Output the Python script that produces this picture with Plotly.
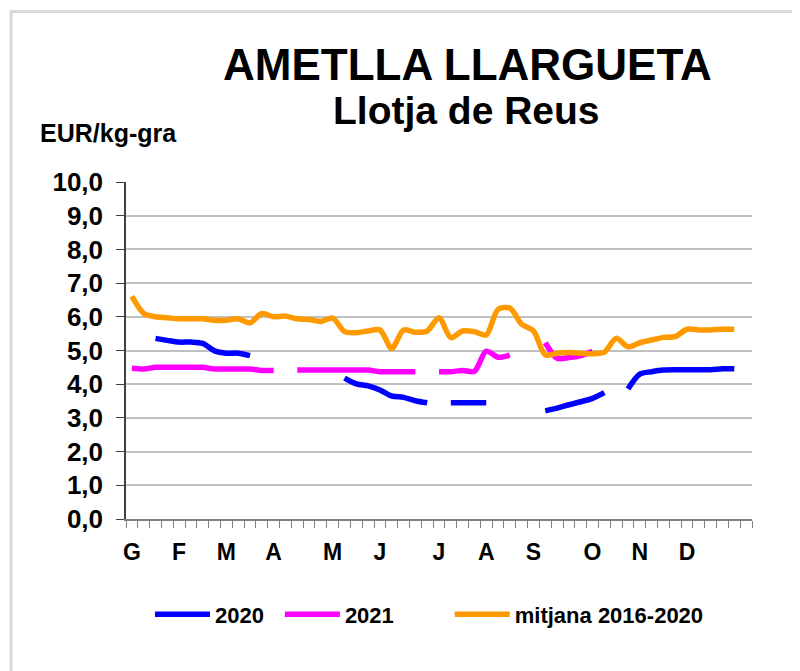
import plotly.graph_objects as go

weeks = list(range(1, 53))
month_labels = ["G", "F", "M", "A", "M", "J", "J", "A", "S", "O", "N", "D"]
month_weeks = [1, 5, 9, 13, 18, 22, 27, 31, 35, 40, 44, 48]

N = None
y2020 = [N, N, 5.36, 5.30, 5.25, 5.25, 5.21, 4.99, 4.92, 4.92, 4.85,
         N, N, N, N, N, N, N,
         4.18, 4.01, 3.95, 3.83, 3.65, 3.61, 3.51, 3.45,
         N, 3.45, 3.45, 3.45, 3.45,
         N, N, N, N,
         3.21, 3.29, 3.39, 3.48, 3.58, 3.75,
         N, 3.86, 4.30, 4.37, 4.42, 4.43, 4.43, 4.43, 4.43, 4.46, 4.46]
y2021 = [4.47, 4.45, 4.50, 4.50, 4.50, 4.50, 4.50, 4.45, 4.45, 4.45, 4.45, 4.41, 4.41,
         N, 4.42, 4.42, 4.42, 4.42, 4.42, 4.42, 4.42, 4.37, 4.37, 4.37, 4.37,
         N, 4.37, 4.37, 4.41, 4.38, 4.98, 4.80, 4.86,
         N, N, 5.23, 4.77, 4.79, 4.85, 4.98,
         N, N, N, N, N, N, N, N, N, N, N, N]
ymitjana = [6.61, 6.10, 6.00, 5.97, 5.94, 5.94, 5.94, 5.89, 5.90, 5.94, 5.82, 6.10, 6.00,
            6.02, 5.94, 5.92, 5.86, 5.96, 5.56, 5.53, 5.58, 5.61, 5.06, 5.61, 5.54, 5.58,
            5.97, 5.38, 5.58, 5.56, 5.46, 6.22, 6.26, 5.78, 5.58, 4.87, 4.92, 4.94, 4.92,
            4.90, 4.95, 5.36, 5.11, 5.23, 5.31, 5.39, 5.41, 5.63, 5.61, 5.61, 5.63, 5.63]

series = [("2020", y2020, "#0000FF", "legend"),
          ("2021", y2021, "#FF00FF", "legend2"),
          ("mitjana 2016-2020", ymitjana, "#FF9900", "legend3")]

FONT = "Liberation Sans, Arial, sans-serif"

fig = go.Figure()
for name, vals, col, lg in series:
    fig.add_trace(go.Scatter(
        x=weeks, y=vals, name=name, mode="lines", legend=lg,
        line=dict(color=col, width=5.5, shape="spline", smoothing=0.8),
        connectgaps=False,
    ))

# the page adds an 8 px body margin; geometry below is in screen pixels
OFF = 8
W, H = 800, 671
SL, SR, ST, SB = 126, 752.5, 181.7, 519.3   # plot area on screen
L, T = SL - OFF, ST - OFF
R, B = W - (SR - OFF), H - (SB - OFF)
pw, ph = SR - SL, SB - ST

def px(x):
    return (x - SL) / pw

def py(y):
    return (SB - y) / ph

legend_font = dict(family=FONT, size=22, weight="bold", color="black")

def leg(xs):
    return dict(orientation="h", x=px(xs - 5), y=py(615), xanchor="left",
                yanchor="middle", font=legend_font, itemwidth=55,
                bgcolor="rgba(0,0,0,0)")

fig.update_layout(
    width=W, height=H,
    margin=dict(l=L, r=R, t=T, b=B, autoexpand=False),
    paper_bgcolor="white", plot_bgcolor="white",
    separators=",.",
    font=dict(family=FONT, color="black"),
    showlegend=True,
    legend=leg(155), legend2=leg(285), legend3=leg(455),
    xaxis=dict(
        range=[0.5, 53.5], tickmode="array", tickvals=month_weeks, ticktext=month_labels,
        ticks="", showgrid=False, zeroline=False,
        showline=True, linecolor="#808080", linewidth=1.5,
        tickfont=dict(family=FONT, size=23, weight="bold", color="black"),
        ticklabelstandoff=12,
        minor=dict(tickmode="linear", tick0=0.5, dtick=1, ticks="outside",
                   ticklen=7, tickcolor="#808080", tickwidth=1, showgrid=False),
    ),
    yaxis=dict(
        range=[0, 10], tickmode="linear", tick0=0, dtick=1, tickformat=".1f",
        ticks="outside", ticklen=8, tickcolor="#404040", tickwidth=1.2,
        showline=True, linecolor="#404040", linewidth=1.5,
        showgrid=True, gridcolor="#C0C0C0", gridwidth=2, zeroline=False,
        tickfont=dict(family=FONT, size=26, weight="bold", color="black"),
        ticklabelstandoff=8,
    ),
    shapes=[dict(type="rect", xref="paper", yref="paper",
                 x0=px(11), x1=px(815), y0=py(690), y1=py(11),
                 line=dict(color="#D9D9D9", width=3), fillcolor="rgba(0,0,0,0)",
                 layer="below")],
    annotations=[
        dict(text="<b>AMETLLA LLARGUETA</b>", xref="paper", yref="paper",
             x=px(468), y=py(64), xanchor="center", yanchor="middle", showarrow=False,
             font=dict(family=FONT, size=44, color="black")),
        dict(text="<b>Llotja de Reus</b>", xref="paper", yref="paper",
             x=px(467), y=py(110), xanchor="center", yanchor="middle", showarrow=False,
             font=dict(family=FONT, size=39, color="black")),
        dict(text="<b>EUR/kg-gra</b>", xref="paper", yref="paper",
             x=px(38), y=py(133), xanchor="left", yanchor="middle", showarrow=False,
             font=dict(family=FONT, size=25, color="black")),
    ],
)

fig.write_html("out.html")
